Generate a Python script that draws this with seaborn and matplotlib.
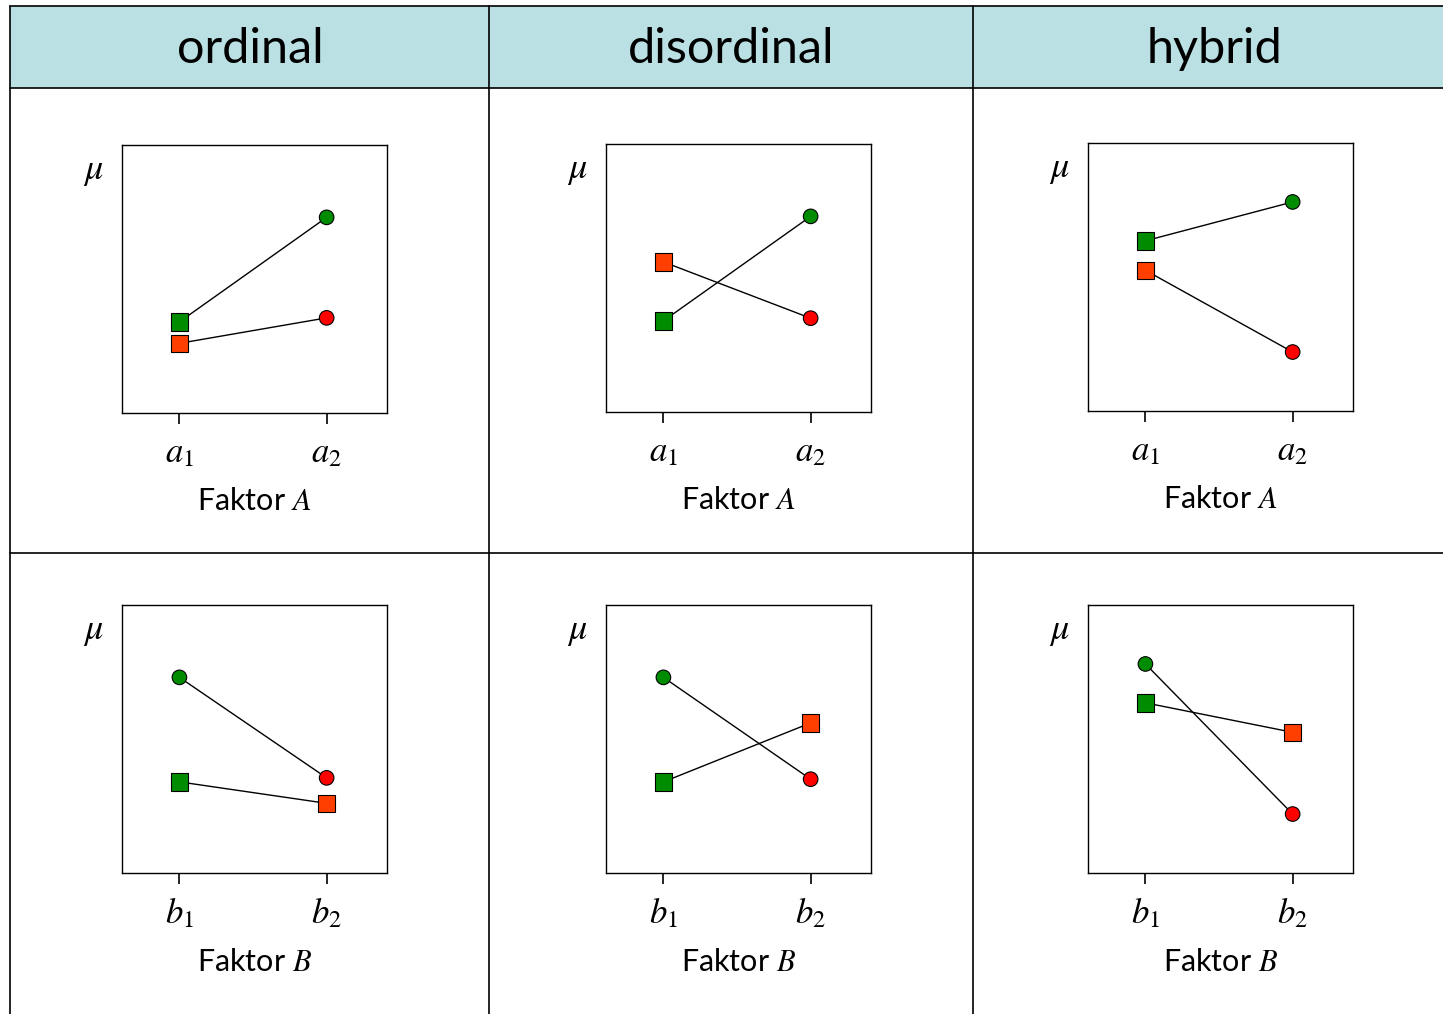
import matplotlib
matplotlib.use("Agg")
import matplotlib.pyplot as plt
from matplotlib.lines import Line2D
from matplotlib.patches import Rectangle
import seaborn as sns
import pandas as pd

# ---------------- data ----------------
patterns = ["ordinal", "disordinal", "hybrid"]
levels_A = ["a1", "a2"]
levels_B = ["b1", "b2"]
tick_A = [r"$a_1$", r"$a_2$"]
tick_B = [r"$b_1$", r"$b_2$"]
# cell means (relative units, 0..1) per pattern
mu_a1b1 = [0.34, 0.34, 0.635]
mu_a1b2 = [0.26, 0.56, 0.525]
mu_a2b1 = [0.73, 0.73, 0.78]
mu_a2b2 = [0.355, 0.35, 0.22]

cell_colors = {"a1b1": "#008C00", "a2b1": "#008C00",
               "a1b2": "#FF3F00", "a2b2": "#FF0000"}
markers_A = {"a1": "s", "a2": "o"}
sizes_A = {"a1": 160, "a2": 110}

rows = []
for p, pat in enumerate(patterns):
    vals = {("a1", "b1"): mu_a1b1[p], ("a1", "b2"): mu_a1b2[p],
            ("a2", "b1"): mu_a2b1[p], ("a2", "b2"): mu_a2b2[p]}
    for i, a in enumerate(levels_A):
        for j, b in enumerate(levels_B):
            rows.append(dict(pattern=pat, A=a, B=b, xa=i, xb=j,
                             cell=a + b, mu=vals[(a, b)]))
df = pd.DataFrame(rows)

# ---------------- style ----------------
sns.set_style("white")
plt.rcParams["font.family"] = ["Lato", "DejaVu Sans"]
plt.rcParams["mathtext.fontset"] = "stix"
plt.rcParams["text.color"] = "black"
plt.rcParams["axes.labelcolor"] = "black"
plt.rcParams["xtick.color"] = "black"

W, H = 1443, 1014
fig = plt.figure(figsize=(W / 100, H / 100), dpi=100)


def fx(x):
    return x / W


def fy(y):
    return 1 - y / H


# table header & grid
fig.add_artist(Rectangle((fx(10), fy(88)), fx(1460) - fx(10), fy(6) - fy(88),
                         transform=fig.transFigure, facecolor="#BAE0E3",
                         edgecolor="none", zorder=0))
lk = dict(transform=fig.transFigure, color="black", lw=1.2, zorder=1)
for yy in [6, 88, 553]:
    fig.add_artist(Line2D([fx(10), fx(1460)], [fy(yy), fy(yy)], **lk))
for xx in [10, 489, 973]:
    fig.add_artist(Line2D([fx(xx), fx(xx)], [fy(6), fy(1020)], **lk))

header_x = [250, 731, 1214]
for pat, hx in zip(patterns, header_x):
    fig.text(fx(hx), fy(49), pat, ha="center", va="center", fontsize=35,
             color="black")

lefts = [122, 606, 1088]
tops_row = [[145, 144, 143], [605, 605, 605]]
bw, bh = 265, 268

for r in range(2):
    for c, pat in enumerate(patterns):
        left = lefts[c]
        top = tops_row[r][c]
        ax = fig.add_axes([fx(left), fy(top + bh), bw / W, bh / H])
        d = df[df["pattern"] == pat]
        if r == 0:
            xcol, unit, ticks, lab = "xa", "B", tick_A, r"Faktor $A$"
        else:
            xcol, unit, ticks, lab = "xb", "A", tick_B, r"Faktor $B$"
        sns.lineplot(data=d, x=xcol, y="mu", units=unit, estimator=None,
                     color="black", lw=1.0, ax=ax, legend=False, sort=True)
        sns.scatterplot(data=d, x=xcol, y="mu", hue="cell", palette=cell_colors,
                        style="A", markers=markers_A, size="A", sizes=sizes_A,
                        edgecolor="black", linewidth=0.8, ax=ax, legend=False,
                        zorder=3)
        ax.set_xlim(-0.39, 1.41)
        ax.set_ylim(0, 1)
        ax.set_xticks([0, 1])
        ax.set_xticklabels(ticks, fontsize=25)
        ax.set_yticks([])
        ax.set_ylabel("")
        ax.set_xlabel(lab, fontsize=22, labelpad=13)
        ax.tick_params(axis="x", bottom=True, direction="out", length=8,
                       width=1.2, color="black", pad=9)
        for s in ax.spines.values():
            s.set_visible(True)
            s.set_color("black")
            s.set_linewidth(1.0)
        ax.text(-0.11, 0.90, r"$\mu$", transform=ax.transAxes, ha="center",
                va="center", fontsize=26)

fig.savefig("out.png", dpi=100)
